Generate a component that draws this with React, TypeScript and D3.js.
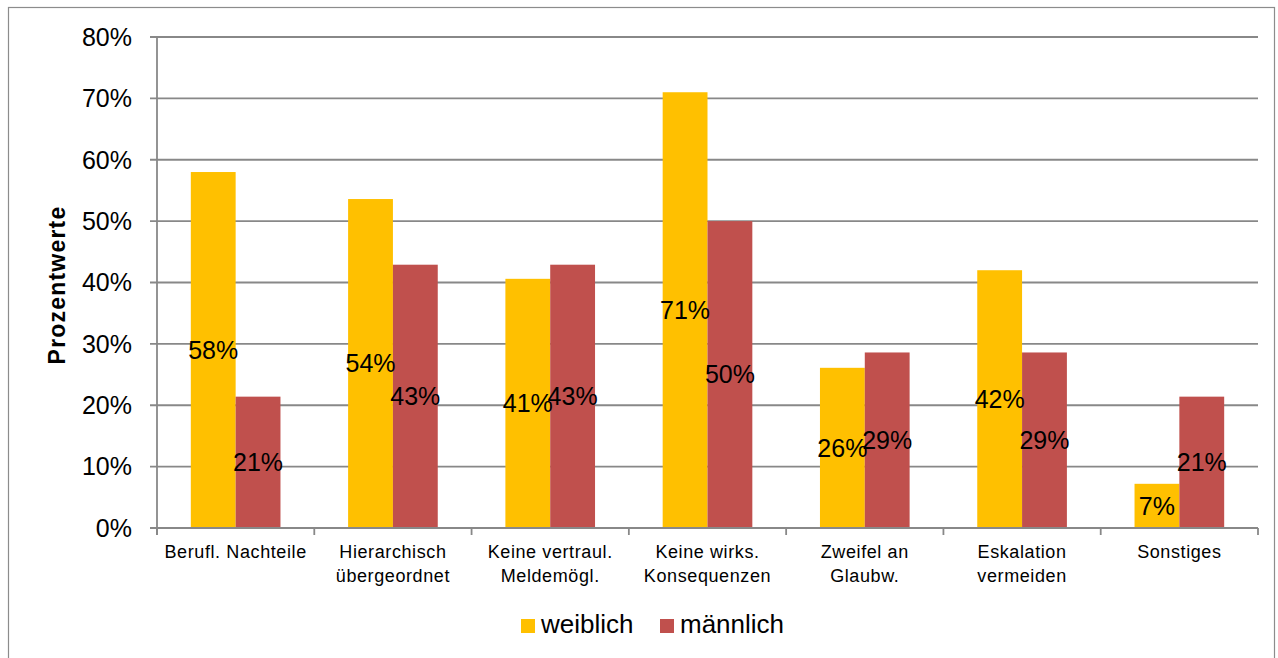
import React, { useEffect, useRef } from 'react'
import * as d3 from 'd3'

const categories = [
  ['Berufl. Nachteile'],
  ['Hierarchisch', 'übergeordnet'],
  ['Keine vertraul.', 'Meldemögl.'],
  ['Keine wirks.', 'Konsequenzen'],
  ['Zweifel an', 'Glaubw.'],
  ['Eskalation', 'vermeiden'],
  ['Sonstiges'],
]
const weiblich = [58.0, 53.6, 40.6, 71.0, 26.1, 42.0, 7.2]
const maennlich = [21.4, 42.9, 42.9, 50.0, 28.6, 28.6, 21.4]
const seriesNames = ['weiblich', 'männlich']
const colors = ['#FFC000', '#C0504D']
const yTicks = [0, 10, 20, 30, 40, 50, 60, 70, 80]

const W = 1278
const H = 658

const App = () => {
  const ref = useRef<SVGSVGElement>(null)

  useEffect(() => {
    draw()
  })

  const draw = () => {
    const svg = d3.select(ref.current)
    svg.selectAll('*').remove()
    const font = '"Liberation Sans", Arial, sans-serif'

    // outer frame
    svg
      .append('rect')
      .attr('x', 8.5)
      .attr('y', 7.5)
      .attr('width', 1266)
      .attr('height', 660)
      .attr('fill', '#fff')
      .attr('stroke', '#8c8c8c')
      .attr('stroke-width', 1.2)

    const left = 157
    const right = 1258
    const top = 37
    const bottom = 528

    const x = d3
      .scaleBand()
      .domain(categories.map((_, i) => String(i)))
      .range([left, right])
      .paddingInner(0.43)
      .paddingOuter(0.215)
    const xs = d3.scaleBand().domain(['0', '1']).range([0, x.bandwidth()])
    const y = d3.scaleLinear().domain([0, 80]).range([bottom, top])

    const step = (right - left) / categories.length

    // gridlines
    svg
      .append('g')
      .selectAll('line')
      .data(yTicks)
      .join('line')
      .attr('x1', left - 7)
      .attr('x2', right)
      .attr('y1', (d) => y(d))
      .attr('y2', (d) => y(d))
      .attr('stroke', '#888')
      .attr('stroke-width', 1.8)

    // y labels
    svg
      .append('g')
      .selectAll('text')
      .data(yTicks)
      .join('text')
      .attr('x', 132)
      .attr('y', (d) => y(d))
      .attr('dy', '0.35em')
      .attr('text-anchor', 'end')
      .attr('font-family', font)
      .attr('font-size', 25)
      .attr('fill', '#000')
      .text((d) => d + '%')

    // bars
    const data = [weiblich, maennlich]
    data.forEach((vals, s) => {
      svg
        .append('g')
        .selectAll('rect')
        .data(vals)
        .join('rect')
        .attr('x', (_, i) => (x(String(i)) as number) + (xs(String(s)) as number))
        .attr('y', (d) => y(d))
        .attr('width', xs.bandwidth())
        .attr('height', (d) => bottom - y(d))
        .attr('fill', colors[s])
    })

    // axes lines
    svg
      .append('line')
      .attr('x1', left)
      .attr('x2', left)
      .attr('y1', top)
      .attr('y2', bottom + 7)
      .attr('stroke', '#888')
      .attr('stroke-width', 1.8)
    svg
      .append('line')
      .attr('x1', left - 7)
      .attr('x2', right)
      .attr('y1', bottom)
      .attr('y2', bottom)
      .attr('stroke', '#888')
      .attr('stroke-width', 1.8)
    // x ticks at boundaries
    svg
      .append('g')
      .selectAll('line')
      .data(d3.range(categories.length + 1))
      .join('line')
      .attr('x1', (i) => left + i * step)
      .attr('x2', (i) => left + i * step)
      .attr('y1', bottom)
      .attr('y2', bottom + 7)
      .attr('stroke', '#888')
      .attr('stroke-width', 1.8)

    // value labels
    data.forEach((vals, s) => {
      svg
        .append('g')
        .selectAll('text')
        .data(vals)
        .join('text')
        .attr('x', (_, i) => (x(String(i)) as number) + (xs(String(s)) as number) + xs.bandwidth() / 2)
        .attr('y', (d) => (y(d) + bottom) / 2)
        .attr('dy', '0.35em')
        .attr('text-anchor', 'middle')
        .attr('font-family', font)
        .attr('font-size', 25)
        .attr('fill', '#000')
        .text((d) => Math.round(d) + '%')
    })

    // x labels
    const xl = svg
      .append('g')
      .selectAll('text')
      .data(categories)
      .join('text')
      .attr('x', (_, i) => (x(String(i)) as number) + x.bandwidth() / 2)
      .attr('y', 558)
      .attr('text-anchor', 'middle')
      .attr('font-family', font)
      .attr('font-size', 18)
      .attr('letter-spacing', 0.6)
      .attr('fill', '#000')
    xl.selectAll('tspan')
      .data((d) => d)
      .join('tspan')
      .attr('x', function () {
        return (this.parentNode as SVGTextElement).getAttribute('x')
      })
      .attr('dy', (_, j) => (j === 0 ? 0 : 24))
      .text((d) => d)

    // y title
    svg
      .append('text')
      .attr('transform', 'translate(65,285) rotate(-90)')
      .attr('text-anchor', 'middle')
      .attr('font-family', font)
      .attr('font-size', 23)
      .attr('font-weight', 'bold')
      .attr('letter-spacing', 1.2)
      .attr('fill', '#000')
      .text('Prozentwerte')

    // legend
    const legendX = [521, 660]
    seriesNames.forEach((name, s) => {
      svg
        .append('rect')
        .attr('x', legendX[s])
        .attr('y', 619)
        .attr('width', 14)
        .attr('height', 14)
        .attr('fill', colors[s])
      svg
        .append('text')
        .attr('x', legendX[s] + 20)
        .attr('y', 633)
        .attr('font-family', font)
        .attr('font-size', 26)
        .attr('fill', '#000')
        .text(name)
    })
  }

  return (
    <svg
      ref={ref}
      width={W}
      height={H}
      style={{ position: 'absolute', left: 0, top: 0 }}
    />
  )
}

export default App
